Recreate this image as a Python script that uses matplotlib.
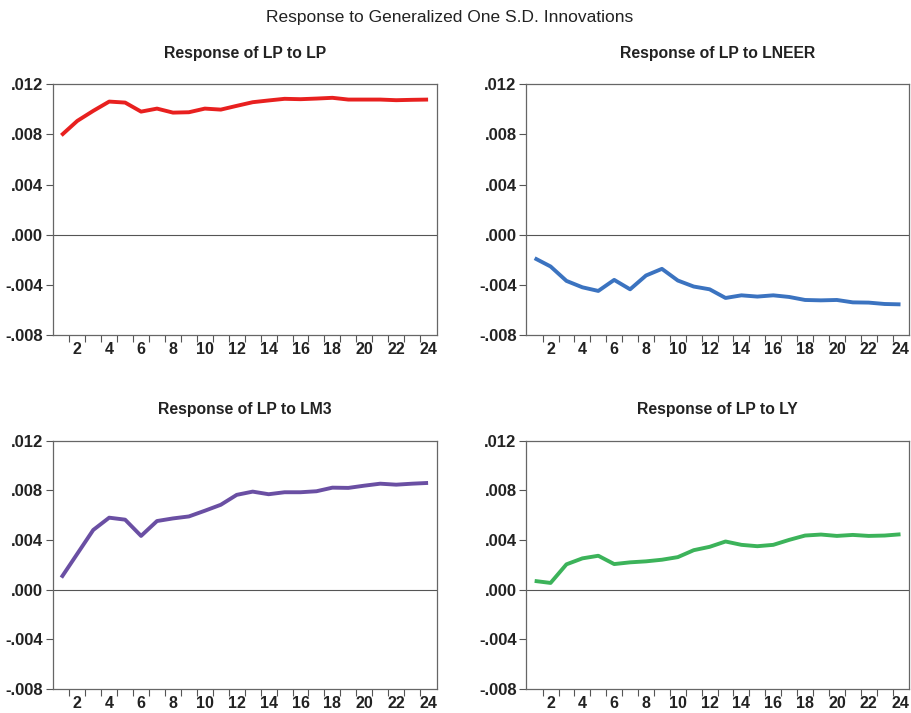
import numpy as np
import matplotlib.pyplot as plt

plt.rcParams['font.family'] = ['Liberation Sans', 'DejaVu Sans']

periods = list(range(1, 25))

lp_to_lp = [0.00792, 0.00907, 0.00987, 0.01061, 0.01053, 0.00981, 0.01005, 0.00973,
            0.00976, 0.01005, 0.00997, 0.01027, 0.01056, 0.01070, 0.01083, 0.01080,
            0.01085, 0.01091, 0.01077, 0.01077, 0.01077, 0.01072, 0.01075, 0.01077]

lp_to_lneer = [-0.00187, -0.00253, -0.00368, -0.00419, -0.00448, -0.00360, -0.00435, -0.00325,
               -0.00272, -0.00365, -0.00413, -0.00435, -0.00504, -0.00483, -0.00493, -0.00483,
               -0.00496, -0.00520, -0.00523, -0.00520, -0.00539, -0.00541, -0.00552, -0.00555]

lp_to_lm3 = [0.00096, 0.00288, 0.00480, 0.00579, 0.00563, 0.00432, 0.00552, 0.00573,
             0.00589, 0.00635, 0.00683, 0.00763, 0.00789, 0.00768, 0.00784, 0.00784,
             0.00792, 0.00821, 0.00819, 0.00837, 0.00853, 0.00845, 0.00853, 0.00859]

lp_to_ly = [0.00069, 0.00053, 0.00203, 0.00251, 0.00272, 0.00205, 0.00219, 0.00227,
            0.00240, 0.00261, 0.00317, 0.00344, 0.00387, 0.00360, 0.00349, 0.00360,
            0.00400, 0.00435, 0.00443, 0.00432, 0.00440, 0.00432, 0.00435, 0.00445]

titles = ["Response of LP to LP", "Response of LP to LNEER",
          "Response of LP to LM3", "Response of LP to LY"]
series = [lp_to_lp, lp_to_lneer, lp_to_lm3, lp_to_ly]
colors = ["#e8201f", "#3b73c0", "#6a4fa3", "#3cb35a"]

y_ticks = [-0.008, -0.004, 0.0, 0.004, 0.008, 0.012]
y_labels = ["-.008", "-.004", ".000", ".004", ".008", ".012"]

fig = plt.figure(figsize=(9.12, 7.13), dpi=100)

# axes boxes in figure fractions: left, bottom, width, height
boxes = [
    [0.058, 0.530, 0.421, 0.352],
    [0.577, 0.530, 0.420, 0.352],
    [0.058, 0.034, 0.421, 0.348],
    [0.577, 0.034, 0.420, 0.348],
]

for box, title, vals, col in zip(boxes, titles, series, colors):
    ax = fig.add_axes(box)
    ax.plot(periods, vals, color=col, lw=2.8, solid_capstyle='butt')
    ax.axhline(0, color='#555555', lw=0.8)
    ax.set_xlim(0.47, 24.55)
    ax.set_ylim(-0.008, 0.012)
    ax.set_yticks(y_ticks)
    ax.set_yticklabels(y_labels)
    # tick marks sit between observations, labels on even periods
    ax.set_xticks(np.arange(1.5, 24, 1.0))
    ax.set_xticklabels([])
    ax.set_xticks(range(2, 25, 2), minor=True)
    ax.set_xticklabels([str(p) for p in range(2, 25, 2)], minor=True)
    ax.tick_params(axis='x', which='major', length=5, width=0.8, color='#555555', direction='out')
    ax.tick_params(axis='x', which='minor', length=0, pad=5)
    ax.tick_params(axis='y', length=5, width=0.8, color='#555555', pad=2)
    for lab in ax.get_xticklabels(minor=True):
        lab.set_fontsize(11.5)
        lab.set_fontweight('bold')
        lab.set_color('#222222')
    for lab in ax.get_yticklabels():
        lab.set_fontsize(12)
        lab.set_fontweight('bold')
        lab.set_color('#222222')
    for sp in ax.spines.values():
        sp.set_color('#666666')
        sp.set_linewidth(0.9)
    ax.set_title(title, fontsize=11.3, fontweight='bold', color='#222222', pad=19)

fig.text(0.493, 0.975, "Response to Generalized One S.D. Innovations",
         ha='center', va='center', fontsize=12.5, color='#222222')

fig.savefig("out.png", dpi=100)
